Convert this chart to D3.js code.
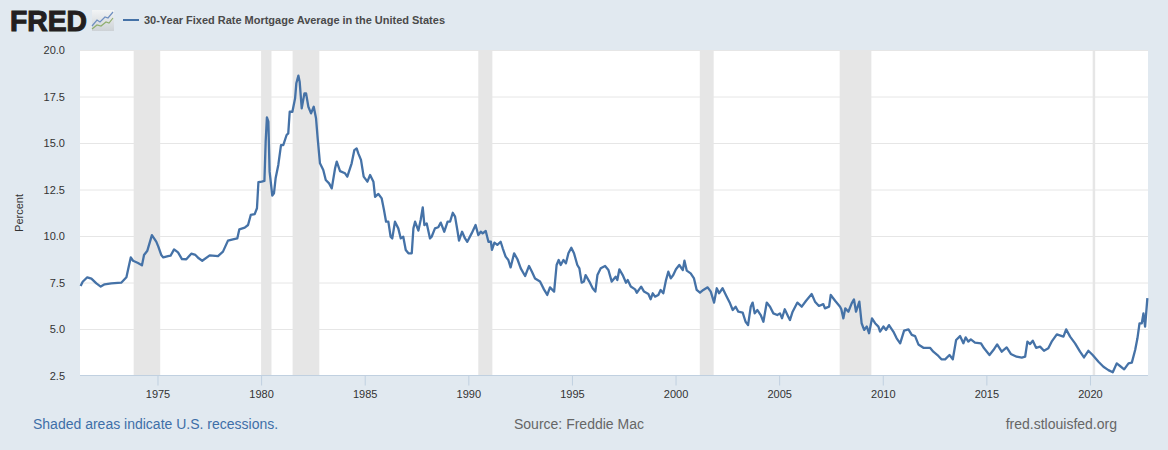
<!DOCTYPE html>
<html><head><meta charset="utf-8">
<script src="https://cdn.jsdelivr.net/npm/d3@7"></script>
<style>html,body{margin:0;padding:0;background:#e1e9f0;overflow:hidden}svg{display:block;font-family:"Liberation Sans",Arial,sans-serif}</style>
</head><body><svg id="c" width="1168" height="450"></svg>
<script>
const titleText="30-Year Fixed Rate Mortgage Average in the United States";
const yLabel="Percent";
const yTicks=[2.5,5,7.5,10,12.5,15,17.5,20];
const xTicks=[1975,1980,1985,1990,1995,2000,2005,2010,2015,2020];
const recessionStart=[1973.85,1980.0,1981.52,1990.48,2001.17,2007.92,2020.13];
const recessionEnd=[1975.13,1980.5,1982.81,1991.16,2001.84,2009.45,2020.25];
const years=[1971.29,1971.39,1971.61,1971.81,1972.05,1972.26,1972.45,1972.77,1973.25,1973.5,1973.61,1973.71,1973.82,1974.06,1974.25,1974.35,1974.51,1974.73,1974.94,1975.04,1975.18,1975.28,1975.51,1975.63,1975.8,1975.99,1976.18,1976.39,1976.63,1976.83,1976.99,1977.16,1977.52,1977.92,1978.16,1978.4,1978.64,1978.85,1978.95,1979.21,1979.37,1979.5,1979.69,1979.8,1979.87,1980.03,1980.16,1980.22,1980.28,1980.35,1980.41,1980.54,1980.62,1980.7,1980.83,1980.96,1981.07,1981.23,1981.31,1981.38,1981.51,1981.64,1981.7,1981.8,1981.86,1981.96,1982.09,1982.17,1982.28,1982.41,1982.54,1982.65,1982.73,1982.84,1983.0,1983.12,1983.28,1983.41,1983.57,1983.65,1983.81,1984.05,1984.16,1984.37,1984.5,1984.61,1984.69,1984.82,1984.95,1985.13,1985.26,1985.42,1985.5,1985.66,1985.82,1985.93,1986.03,1986.14,1986.25,1986.33,1986.46,1986.62,1986.74,1986.86,1986.98,1987.11,1987.27,1987.35,1987.43,1987.59,1987.7,1987.8,1987.88,1987.99,1988.15,1988.23,1988.39,1988.55,1988.67,1988.84,1989.0,1989.12,1989.25,1989.36,1989.47,1989.55,1989.7,1989.84,1989.95,1990.16,1990.35,1990.48,1990.6,1990.69,1990.84,1990.97,1991.09,1991.14,1991.26,1991.4,1991.56,1991.66,1991.8,1991.93,1992.04,1992.21,1992.37,1992.53,1992.74,1992.93,1993.07,1993.22,1993.46,1993.65,1993.81,1993.94,1994.14,1994.26,1994.36,1994.46,1994.59,1994.71,1994.83,1994.97,1995.1,1995.26,1995.36,1995.47,1995.58,1995.66,1995.84,1996.0,1996.13,1996.23,1996.39,1996.6,1996.76,1996.92,1997.11,1997.19,1997.29,1997.45,1997.61,1997.69,1997.84,1998.05,1998.13,1998.34,1998.48,1998.69,1998.8,1998.9,1999.01,1999.17,1999.28,1999.41,1999.54,1999.65,1999.77,1999.89,2000.02,2000.18,2000.35,2000.43,2000.54,2000.73,2000.89,2001.02,2001.18,2001.34,2001.55,2001.7,2001.86,2001.99,2002.1,2002.27,2002.47,2002.63,2002.76,2002.9,2003.03,2003.24,2003.38,2003.5,2003.63,2003.72,2003.82,2003.95,2004.11,2004.24,2004.4,2004.56,2004.72,2004.91,2005.04,2005.14,2005.27,2005.44,2005.52,2005.65,2005.88,2006.09,2006.3,2006.57,2006.73,2006.92,2007.13,2007.21,2007.41,2007.49,2007.7,2007.94,2008.0,2008.1,2008.19,2008.34,2008.5,2008.61,2008.71,2008.87,2008.98,2009.1,2009.23,2009.34,2009.48,2009.63,2009.79,2009.87,2010.03,2010.16,2010.3,2010.51,2010.67,2010.84,2011.03,2011.24,2011.4,2011.56,2011.72,2011.96,2012.28,2012.44,2012.64,2012.83,2013.01,2013.22,2013.38,2013.54,2013.73,2013.89,2014.0,2014.13,2014.25,2014.45,2014.74,2014.89,2015.15,2015.34,2015.52,2015.74,2015.98,2016.18,2016.46,2016.71,2016.87,2016.98,2017.11,2017.24,2017.4,2017.59,2017.78,2017.99,2018.15,2018.4,2018.72,2018.85,2019.04,2019.28,2019.52,2019.71,2019.92,2020.13,2020.41,2020.65,2020.89,2021.1,2021.29,2021.45,2021.65,2021.86,2022.02,2022.18,2022.29,2022.39,2022.5,2022.58,2022.66,2022.77];
const rates=[7.31,7.54,7.78,7.71,7.45,7.28,7.4,7.45,7.49,7.78,8.35,8.85,8.67,8.55,8.42,8.98,9.21,10.05,9.7,9.43,8.98,8.85,8.92,8.94,9.28,9.12,8.76,8.75,9.05,8.98,8.8,8.67,8.96,8.92,9.16,9.75,9.82,9.87,10.36,10.45,10.59,11.13,11.18,11.49,12.89,12.92,12.96,15.07,16.38,16.15,13.46,12.17,12.29,13.1,13.82,14.89,14.89,15.43,15.52,16.68,16.68,17.4,18.21,18.62,18.3,16.86,17.67,17.67,16.95,16.59,16.95,16.33,15.25,13.91,13.55,13.01,12.83,12.56,13.64,14.0,13.49,13.37,13.19,13.91,14.62,14.71,14.44,14.09,13.19,12.92,13.28,12.92,12.11,12.26,12.02,11.4,10.77,10.77,9.96,9.87,10.77,10.41,9.87,9.96,9.25,9.07,9.07,10.41,10.77,10.29,10.86,11.54,10.59,10.68,9.87,9.96,10.41,10.47,10.72,10.23,10.77,10.77,11.25,11.04,10.32,9.75,10.23,9.87,9.69,10.14,10.59,10.05,10.23,10.14,10.27,9.69,9.69,9.25,9.64,9.52,9.69,9.34,8.89,8.71,8.31,9.07,8.75,8.26,7.85,8.39,8.08,7.72,7.55,7.13,6.83,7.24,7.01,8.44,8.71,8.44,8.71,8.53,9.07,9.37,9.07,8.44,8.26,7.49,7.55,7.9,7.55,7.19,7.01,7.9,8.26,8.39,8.17,7.55,7.81,7.63,8.21,7.9,7.49,7.63,7.28,7.13,6.95,7.28,7.01,6.88,6.6,6.92,6.74,6.83,7.1,6.92,7.63,8.08,7.72,7.9,8.21,8.44,8.17,8.67,8.14,7.99,7.72,7.1,6.95,7.1,7.24,7.01,6.42,7.19,6.92,7.19,6.74,6.38,6.02,6.2,5.93,5.88,5.39,5.21,6.2,6.42,5.84,6.02,5.75,5.39,6.42,6.2,5.84,5.75,5.84,5.58,6.06,5.66,5.48,5.93,6.42,6.2,6.52,6.88,6.47,6.24,6.34,6.11,6.2,6.83,6.52,6.2,6.06,5.57,6.11,5.93,6.38,6.59,5.93,6.47,5.31,4.95,5.13,4.77,5.57,5.31,5.13,4.86,5.13,4.95,5.21,4.86,4.5,4.23,4.91,4.98,4.68,4.62,4.17,3.99,3.99,3.78,3.6,3.37,3.37,3.6,3.37,4.41,4.62,4.23,4.55,4.32,4.44,4.27,4.23,3.96,3.6,3.87,4.17,3.78,4.01,3.66,3.51,3.46,3.51,4.32,4.19,4.37,3.99,4.05,3.83,3.96,4.32,4.71,4.59,4.98,4.59,4.23,3.78,3.47,3.83,3.6,3.24,2.97,2.79,2.67,3.15,3.01,2.83,3.15,3.19,3.87,4.5,5.3,5.3,5.84,5.13,6.66];
const series=years.map((y,i)=>({y,v:rates[i]}));
const L=80,R=1148,T=50,B=375.5;
const x=d3.scaleLinear().domain([1971.26,2022.8]).range([L,R]);
const y=d3.scaleLinear().domain([2.5,20]).range([B,T]);
const svg=d3.select("#c");
svg.append("rect").attr("x",L).attr("y",T).attr("width",R-L).attr("height",B-T).attr("fill","#fff");
svg.selectAll("rect.rec").data(recessionStart).join("rect").attr("class","rec")
 .attr("x",d=>x(d)).attr("width",(d,i)=>x(recessionEnd[i])-x(d)).attr("y",T).attr("height",B-T).attr("fill","#e6e6e6");
const ya=svg.append("g").attr("transform",`translate(${L},0)`).call(d3.axisLeft(y).tickValues(yTicks).tickFormat(d3.format(".1f")).tickSize(-(R-L)).tickPadding(15));
ya.select(".domain").remove();
ya.selectAll("line").attr("stroke","#e6e6e6").attr("stroke-width",1).filter(d=>d===2.5).remove();
ya.selectAll("text").attr("fill","#333").style("font-size","11px").style("font-family","inherit");
const xa=svg.append("g").attr("transform",`translate(0,${B})`).call(d3.axisBottom(x).tickValues(xTicks).tickFormat(d3.format("d")).tickSize(10).tickPadding(5));
xa.select(".domain").attr("stroke","#c0d0e0").attr("d",`M${L},0H${R}`);
xa.selectAll("line").attr("stroke","#c0d0e0");
xa.selectAll("text").attr("fill","#333").style("font-size","11px").style("font-family","inherit");
svg.append("path").datum(series).attr("fill","none").attr("stroke","#4572a7").attr("stroke-width",2.3).attr("stroke-linejoin","round")
 .attr("d",d3.line().x(d=>x(d.y)).y(d=>y(d.v)));
svg.append("text").attr("transform","translate(23,213) rotate(-90)").attr("text-anchor","middle").attr("fill","#333").style("font-size","11px").text(yLabel);
svg.append("text").attr("x",10).attr("y",31).attr("fill","#231f20").attr("stroke","#231f20").attr("stroke-width",1.1).style("font-size","29px").style("font-weight","700").attr("textLength",77).attr("lengthAdjust","spacingAndGlyphs").text("FRED");
const defs=svg.append("defs");
const g=defs.append("linearGradient").attr("id","ig").attr("x1",0).attr("y1",0).attr("x2",0).attr("y2",1);
g.append("stop").attr("offset","0").attr("stop-color","#f2f4f5");g.append("stop").attr("offset","1").attr("stop-color","#cdd2d6");
svg.append("rect").attr("x",92).attr("y",10).attr("width",22).attr("height",21).attr("fill","url(#ig)");
svg.append("path").attr("d","M92,26L97,20L100,22L105,17L108,18L113,12").attr("fill","none").attr("stroke","#6f8fc0").attr("stroke-width",1.2);
svg.append("path").attr("d","M92,29L97,25L101,26L106,22L109,23L113,18").attr("fill","none").attr("stroke","#8fae6e").attr("stroke-width",1.2);
svg.append("line").attr("x1",123).attr("x2",139).attr("y1",20).attr("y2",20).attr("stroke","#4572a7").attr("stroke-width",2);
svg.append("text").attr("x",144).attr("y",24).attr("fill","#4a4a4a").style("font-size","11px").style("font-weight","700").attr("textLength",301).text(titleText);
svg.append("text").attr("x",33).attr("y",429).attr("fill","#3e6fa8").style("font-size","14px").text("Shaded areas indicate U.S. recessions.");
svg.append("text").attr("x",514).attr("y",429).attr("fill","#666").style("font-size","14px").text("Source: Freddie Mac");
svg.append("text").attr("x",1117).attr("y",429).attr("text-anchor","end").attr("fill","#666").style("font-size","14px").text("fred.stlouisfed.org");
</script></body></html>
